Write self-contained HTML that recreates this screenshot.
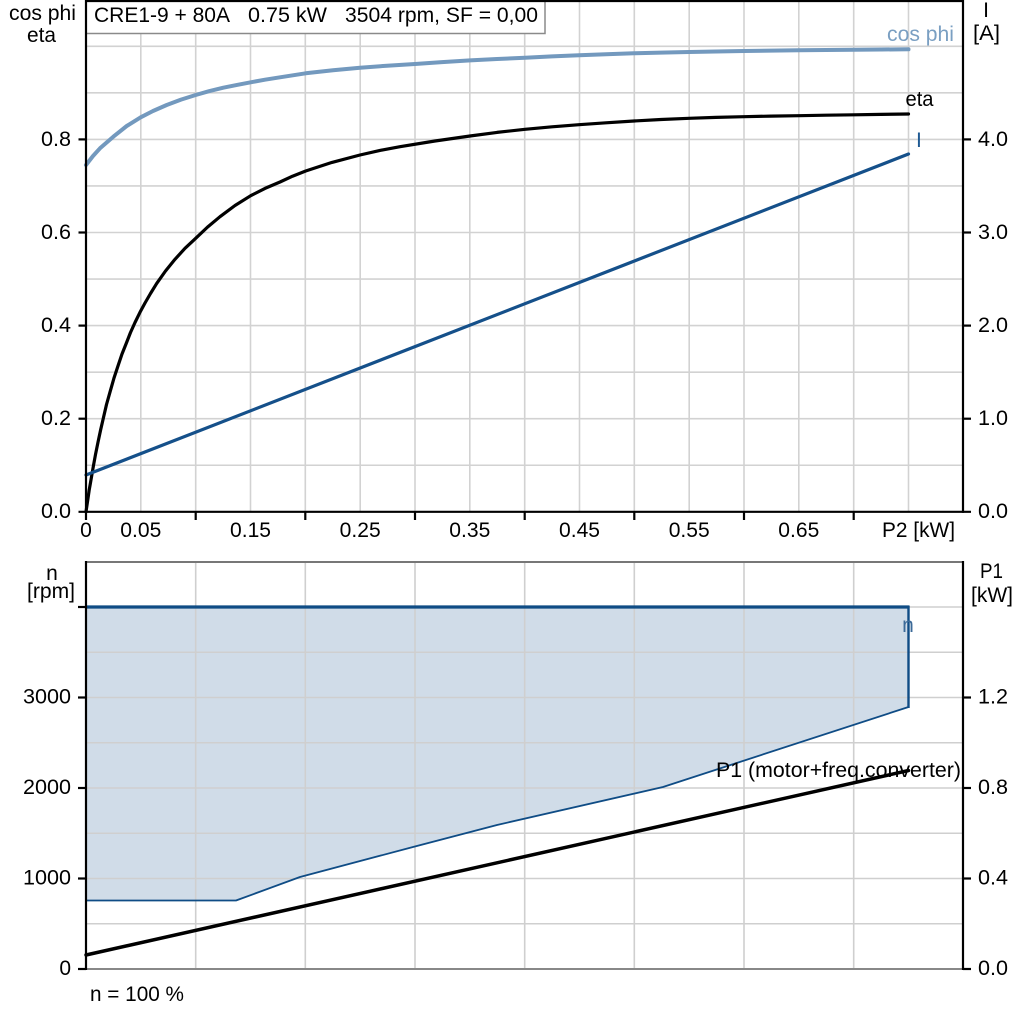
<!DOCTYPE html>
<html>
<head>
<meta charset="utf-8">
<style>
html,body{margin:0;padding:0;background:#fff;}
svg{display:block;}
text{font-family:"Liberation Sans",Arial,sans-serif;font-size:21px;fill:#000;}
</style>
</head>
<body>
<svg width="1024" height="1024" viewBox="0 0 1024 1024" xmlns="http://www.w3.org/2000/svg">
<rect width="1024" height="1024" fill="#fff"/>

<!-- ============ TOP CHART ============ -->
<g stroke="#d2d2d2" stroke-width="1.6" fill="none">
  <line x1="140.8" y1="1" x2="140.8" y2="512"/>
  <line x1="195.7" y1="1" x2="195.7" y2="512"/>
  <line x1="250.5" y1="1" x2="250.5" y2="512"/>
  <line x1="305.3" y1="1" x2="305.3" y2="512"/>
  <line x1="360.2" y1="1" x2="360.2" y2="512"/>
  <line x1="415.0" y1="1" x2="415.0" y2="512"/>
  <line x1="469.8" y1="1" x2="469.8" y2="512"/>
  <line x1="524.7" y1="1" x2="524.7" y2="512"/>
  <line x1="579.5" y1="1" x2="579.5" y2="512"/>
  <line x1="634.3" y1="1" x2="634.3" y2="512"/>
  <line x1="689.2" y1="1" x2="689.2" y2="512"/>
  <line x1="744.0" y1="1" x2="744.0" y2="512"/>
  <line x1="798.8" y1="1" x2="798.8" y2="512"/>
  <line x1="853.7" y1="1" x2="853.7" y2="512"/>
  <line x1="908.5" y1="1" x2="908.5" y2="512"/>
  <line x1="86" y1="465.25" x2="963" y2="465.25"/>
  <line x1="86" y1="418.7" x2="963" y2="418.7"/>
  <line x1="86" y1="372.15" x2="963" y2="372.15"/>
  <line x1="86" y1="325.6" x2="963" y2="325.6"/>
  <line x1="86" y1="279.05" x2="963" y2="279.05"/>
  <line x1="86" y1="232.5" x2="963" y2="232.5"/>
  <line x1="86" y1="185.95" x2="963" y2="185.95"/>
  <line x1="86" y1="139.4" x2="963" y2="139.4"/>
  <line x1="86" y1="92.85" x2="963" y2="92.85"/>
  <line x1="86" y1="46.3" x2="963" y2="46.3"/>
</g>

<!-- title box -->
<rect x="86" y="-1" width="459" height="34.5" fill="#fff" stroke="#8a8a8a" stroke-width="1.5"/>
<text x="94" y="22" textLength="136" lengthAdjust="spacingAndGlyphs">CRE1-9 + 80A</text>
<text x="248" y="22" textLength="79" lengthAdjust="spacingAndGlyphs">0.75 kW</text>
<text x="345" y="22" textLength="193" lengthAdjust="spacingAndGlyphs">3504 rpm, SF = 0,00</text>

<!-- curves -->
<polyline fill="none" stroke="#7399be" stroke-width="4" stroke-linejoin="round" stroke-linecap="round"
  points="86,165 93,156 100,148.3 113.3,136.7 126.7,126 140.7,117.3 153,111 166.7,105 181,99.6 195.7,95 209,91.2 223.3,87.7 237,84.9 250.7,82.3 265,79.7 280,77.3 305.7,73.3 333,70.3 360,67.7 387,65.7 415,64 442,62.1 470,60.4 497,59 525,57.7 552,56.4 579,55.3 606,54.3 634,53.3 661,52.6 689,52 716,51.5 744,51 771,50.6 799,50.3 826,50 854,49.8 881,49.5 908.5,49.3"/>

<polyline fill="none" stroke="#000" stroke-width="3.2" stroke-linejoin="round" stroke-linecap="round"
  points="86,511.8 87,505 88,498.3 89.2,490 90.5,482.7 92,474 93.3,466.5 95.5,454.5 98,442.2 100.6,430 103.3,418.3 106.5,404.5 110,392.1 114,378 118.3,365 122,354 126,344 130.5,332.5 135,322.5 140,312.3 145,303 150.5,293.5 156.7,283.4 165.5,271 175,259.3 185,248.3 195.7,238.3 207.5,227.1 220,216.7 235,205.5 250.7,195.7 265,188.4 280,182 292.5,176.2 305.7,171 332,162.4 360,155 380,150.4 400,146.7 435,141 470,136 497,132.4 525,129.3 552,126.8 579,124.7 606,122.8 634,121 661,119.5 689,118.3 716,117.4 744,116.7 771,116.1 799,115.7 826,115.2 854,114.8 881,114.4 908.5,114"/>

<line x1="86" y1="475" x2="908.5" y2="154" stroke="#15508a" stroke-width="3.2" stroke-linecap="round"/>

<!-- curve labels -->
<text x="887" y="41" textLength="67" lengthAdjust="spacingAndGlyphs" style="fill:#7a9fc2">cos phi</text>
<text x="905.5" y="106" textLength="28" lengthAdjust="spacingAndGlyphs">eta</text>
<text x="916" y="147" style="fill:#1f5a93">I</text>

<!-- axes top -->
<g stroke="#000" stroke-width="2.2" fill="none">
  <line x1="86" y1="1" x2="963" y2="1"/>
  <line x1="86" y1="0" x2="86" y2="520"/>
  <line x1="963" y1="0" x2="963" y2="512.9"/>
  <line x1="78.5" y1="511.8" x2="971" y2="511.8"/>
  <line x1="78.5" y1="418.7" x2="86" y2="418.7"/>
  <line x1="78.5" y1="325.6" x2="86" y2="325.6"/>
  <line x1="78.5" y1="232.5" x2="86" y2="232.5"/>
  <line x1="78.5" y1="139.4" x2="86" y2="139.4"/>
  <line x1="963" y1="418.7" x2="971" y2="418.7"/>
  <line x1="963" y1="325.6" x2="971" y2="325.6"/>
  <line x1="963" y1="232.5" x2="971" y2="232.5"/>
  <line x1="963" y1="139.4" x2="971" y2="139.4"/>
  <line x1="195.7" y1="511.8" x2="195.7" y2="520"/>
  <line x1="305.3" y1="511.8" x2="305.3" y2="520"/>
  <line x1="415.0" y1="511.8" x2="415.0" y2="520"/>
  <line x1="524.7" y1="511.8" x2="524.7" y2="520"/>
  <line x1="634.3" y1="511.8" x2="634.3" y2="520"/>
  <line x1="744.0" y1="511.8" x2="744.0" y2="520"/>
  <line x1="853.7" y1="511.8" x2="853.7" y2="520"/>
</g>

<!-- axis titles top -->
<text x="9" y="20" textLength="67" lengthAdjust="spacingAndGlyphs">cos phi</text>
<text x="27" y="42" textLength="29" lengthAdjust="spacingAndGlyphs">eta</text>
<text x="986" y="17" text-anchor="middle">I</text>
<text x="973" y="40" textLength="27" lengthAdjust="spacingAndGlyphs">[A]</text>

<g text-anchor="end">
  <text x="71" y="518" textLength="30" lengthAdjust="spacingAndGlyphs">0.0</text>
  <text x="71" y="425" textLength="30" lengthAdjust="spacingAndGlyphs">0.2</text>
  <text x="71" y="332" textLength="30" lengthAdjust="spacingAndGlyphs">0.4</text>
  <text x="71" y="239" textLength="30" lengthAdjust="spacingAndGlyphs">0.6</text>
  <text x="71" y="146" textLength="30" lengthAdjust="spacingAndGlyphs">0.8</text>
</g>
<g>
  <text x="978" y="518" textLength="30" lengthAdjust="spacingAndGlyphs">0.0</text>
  <text x="978" y="425" textLength="30" lengthAdjust="spacingAndGlyphs">1.0</text>
  <text x="978" y="332" textLength="30" lengthAdjust="spacingAndGlyphs">2.0</text>
  <text x="978" y="239" textLength="30" lengthAdjust="spacingAndGlyphs">3.0</text>
  <text x="978" y="146" textLength="30" lengthAdjust="spacingAndGlyphs">4.0</text>
</g>
<g text-anchor="middle">
  <text x="86" y="537">0</text>
  <text x="140.8" y="537" textLength="41" lengthAdjust="spacingAndGlyphs">0.05</text>
  <text x="250.5" y="537" textLength="41" lengthAdjust="spacingAndGlyphs">0.15</text>
  <text x="360.2" y="537" textLength="41" lengthAdjust="spacingAndGlyphs">0.25</text>
  <text x="469.8" y="537" textLength="41" lengthAdjust="spacingAndGlyphs">0.35</text>
  <text x="579.5" y="537" textLength="41" lengthAdjust="spacingAndGlyphs">0.45</text>
  <text x="689.2" y="537" textLength="41" lengthAdjust="spacingAndGlyphs">0.55</text>
  <text x="798.8" y="537" textLength="41" lengthAdjust="spacingAndGlyphs">0.65</text>
</g>
<text x="882" y="537" textLength="73" lengthAdjust="spacingAndGlyphs">P2 [kW]</text>

<!-- ============ BOTTOM CHART ============ -->
<polygon fill="#d0dce8" stroke="none"
  points="86,607 908.5,607 908.5,707 663,787 497,825 413,847 300,877 236,900.5 86,900.5"/>

<g stroke="#cfcfcf" stroke-width="1.6" fill="none">
  <line x1="195.7" y1="562" x2="195.7" y2="969"/>
  <line x1="305.3" y1="562" x2="305.3" y2="969"/>
  <line x1="415.0" y1="562" x2="415.0" y2="969"/>
  <line x1="524.7" y1="562" x2="524.7" y2="969"/>
  <line x1="634.3" y1="562" x2="634.3" y2="969"/>
  <line x1="744.0" y1="562" x2="744.0" y2="969"/>
  <line x1="853.7" y1="562" x2="853.7" y2="969"/>
  <line x1="86" y1="923.75" x2="963" y2="923.75"/>
  <line x1="86" y1="878.5" x2="963" y2="878.5"/>
  <line x1="86" y1="833.25" x2="963" y2="833.25"/>
  <line x1="86" y1="788" x2="963" y2="788"/>
  <line x1="86" y1="742.75" x2="963" y2="742.75"/>
  <line x1="86" y1="697.5" x2="963" y2="697.5"/>
  <line x1="86" y1="652.25" x2="963" y2="652.25"/>
  <line x1="86" y1="607" x2="963" y2="607"/>
</g>

<polyline fill="none" stroke="#0f4c85" stroke-width="1.8" stroke-linejoin="round"
  points="86,900.5 236,900.5 300,877 413,847 497,825 663,787 908.5,707"/>
<line x1="908.5" y1="606" x2="908.5" y2="708" stroke="#0f4c85" stroke-width="2.4"/>
<line x1="86" y1="607" x2="909.5" y2="607" stroke="#0f4c85" stroke-width="3.3"/>

<line x1="86" y1="955" x2="908.5" y2="770.5" stroke="#000" stroke-width="3.5" stroke-linecap="round"/>

<text x="908" y="632" text-anchor="middle" style="fill:#3c6a98">n</text>
<text x="716" y="777" textLength="245" lengthAdjust="spacingAndGlyphs">P1 (motor+freq.converter)</text>

<line x1="86" y1="562" x2="963" y2="562" stroke="#777" stroke-width="2"/>
<line x1="86" y1="969" x2="963" y2="969" stroke="#888" stroke-width="2"/>
<g stroke="#000" stroke-width="2.2" fill="none">
  <line x1="86" y1="561" x2="86" y2="970"/>
  <line x1="963" y1="561" x2="963" y2="970"/>
  <line x1="78" y1="969" x2="86" y2="969"/>
  <line x1="78" y1="878.5" x2="86" y2="878.5"/>
  <line x1="78" y1="788" x2="86" y2="788"/>
  <line x1="78" y1="697.5" x2="86" y2="697.5"/>
  <line x1="78" y1="607" x2="86" y2="607"/>
  <line x1="963" y1="969" x2="971" y2="969"/>
  <line x1="963" y1="878.5" x2="971" y2="878.5"/>
  <line x1="963" y1="788" x2="971" y2="788"/>
  <line x1="963" y1="697.5" x2="971" y2="697.5"/>
</g>

<text x="52" y="580" text-anchor="middle">n</text>
<text x="27" y="598" textLength="48" lengthAdjust="spacingAndGlyphs">[rpm]</text>
<text x="980" y="578" textLength="23" lengthAdjust="spacingAndGlyphs">P1</text>
<text x="971" y="602" textLength="42" lengthAdjust="spacingAndGlyphs">[kW]</text>

<g text-anchor="end">
  <text x="71" y="975">0</text>
  <text x="71" y="884.5" textLength="48" lengthAdjust="spacingAndGlyphs">1000</text>
  <text x="71" y="794" textLength="48" lengthAdjust="spacingAndGlyphs">2000</text>
  <text x="71" y="703.5" textLength="48" lengthAdjust="spacingAndGlyphs">3000</text>
</g>
<g>
  <text x="978" y="975" textLength="30" lengthAdjust="spacingAndGlyphs">0.0</text>
  <text x="978" y="884.5" textLength="30" lengthAdjust="spacingAndGlyphs">0.4</text>
  <text x="978" y="794" textLength="30" lengthAdjust="spacingAndGlyphs">0.8</text>
  <text x="978" y="703.5" textLength="30" lengthAdjust="spacingAndGlyphs">1.2</text>
</g>

<text x="90" y="1001" textLength="94" lengthAdjust="spacingAndGlyphs">n = 100 %</text>
</svg>
</body>
</html>
